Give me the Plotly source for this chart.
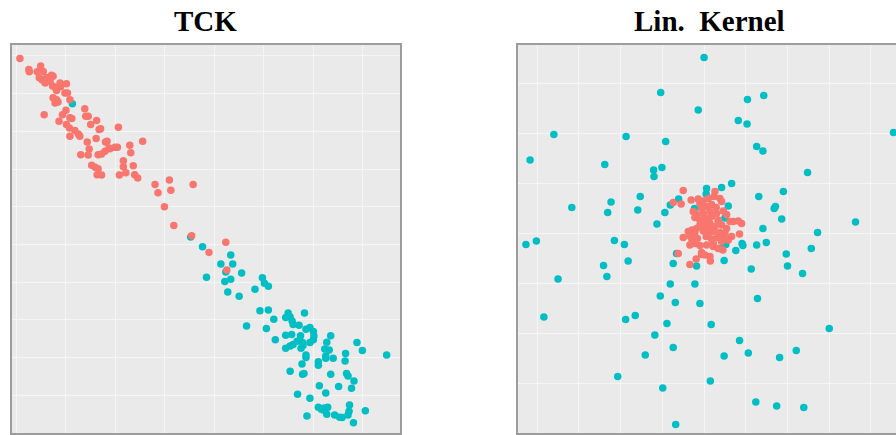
import plotly.graph_objects as go

# ---------------- data ----------------
# Left panel: TCK embedding
tck_red_x = [-9.3,-7.5,-7.4,-5.8,-5.1,-4.6,-5.4,-4.8,-4.2,-3.9,-4.4,-3.2,-2.9,-2.6,-2.7,-2.2,-1.9,-1.2,-1.1,0.1,
             -0.2,0.3,-2.6,-2.2,-1.6,-1.9,0.8,-4.4,-1.4,0.0,-0.7,0.8,1.2,3.8,4.0,4.5,6.2,5.0,0.1,0.7,
             1.8,2.5,2.8,0.8,6.7,7.0,10.6,6.1,4.3,8.0,8.3,4.7,3.0,4.5,6.5,7.2,7.9,8.9,9.9,10.4,
             8.7,12.9,15.5,13.1,11.6,11.6,13.6,12.1,13.9,14.5,5.2,5.9,6.5,6.3,7.2,10.8,18.0,20.9,25.7,18.6,
             21.2,19.9,21.8,25.4,32.3,28.9,32.5]
tck_red_y = [99.3,96.4,95.8,95.8,97.3,95.9,94.2,93.6,92.8,94.3,93.7,93.3,94.9,94.6,92.0,91.7,90.8,92.8,91.8,92.6,
             90.2,90.2,88.9,87.5,87.8,88.4,88.4,84.4,82.7,85.6,84.4,83.6,83.4,86.0,84.0,84.0,82.9,81.8,81.8,80.9,
             80.2,79.3,78.7,78.7,80.5,80.7,81.1,78.1,77.2,77.2,77.4,75.3,73.8,73.7,73.8,74.0,74.7,75.4,75.8,75.8,
             75.6,76.3,77.4,74.3,72.2,70.6,70.9,69.0,68.5,67.6,71.0,70.5,70.1,68.5,68.4,68.4,65.9,67.1,65.9,63.7,
             64.4,60.0,55.0,52.3,50.6,47.9,43.2]
tck_cyan_x = [1.3,25.2,27.6,33.3,31.3,33.7,32.3,35.5,28.4,32.1,33.3,32.7,35.0,39.7,40.1,40.9,38.2,39.2,40.9,42.0,
              36.5,40.5,42.3,44.9,44.4,45.3,45.7,45.9,48.2,47.1,48.5,49.3,50.0,50.1,50.0,49.3,44.4,45.6,47.4,46.7,
              47.8,47.9,47.5,44.4,45.3,45.9,48.5,48.5,53.5,52.7,52.3,53.2,52.5,52.5,54.0,56.5,56.4,51.0,51.0,47.7,
              45.3,48.1,47.8,53.5,56.7,57.0,58.2,58.8,59.9,64.8,51.2,55.1,57.7,46.8,52.5,49.3,57.3,57.2,57.0,51.0,
              51.6,52.2,52.9,52.0,52.7,54.3,55.3,55.8,48.7,60.5,58.1]
tck_cyan_y = [87.3,52.0,49.4,47.2,44.8,44.8,42.7,42.4,41.3,40.2,40.8,37.4,36.3,41.2,39.7,38.9,38.1,32.4,32.6,30.2,
              28.4,27.7,24.7,31.8,30.6,30.8,29.7,28.8,31.8,28.6,27.5,28.0,26.9,25.7,24.7,24.0,25.9,26.1,25.8,24.3,
              24.0,23.2,22.5,22.5,23.1,23.5,20.7,20.0,25.8,24.1,22.3,22.0,20.4,19.8,19.8,21.1,19.1,18.9,18.0,18.3,
              16.4,15.8,15.6,15.6,15.8,15.1,13.8,24.0,21.9,20.7,12.5,12.3,11.9,10.3,10.6,9.2,7.4,5.8,4.8,6.8,
              6.3,6.6,6.8,6.1,5.0,4.8,4.2,4.1,4.5,5.9,2.7]

# Right panel: linear kernel embedding
lin_red_x = [-5.0,-7.4,-5.5,-3.1,-1.0,2.6,2.4,3.8,4.2,-1.4,-0.2,1.0,1.8,-0.6,0.6,2.9,-2.6,-1.8,-0.2,1.4,
             3.0,4.6,-2.2,-1.0,0.6,1.8,3.4,5.4,6.2,7.0,8.2,9.0,-1.0,0.2,1.4,2.6,4.2,5.4,-1.8,-2.9,
             -3.8,-2.2,-0.2,1.0,2.2,3.8,5.0,-5.0,-3.4,-1.6,0.5,1.8,3.2,4.6,6.6,8.5,-3.4,-2.2,-1.0,0.6,
             2.2,4.2,5.8,-0.6,0.2,1.4,4.5,-1.9,-3.4,-6.2,2.2,3.4,-2.9,1.0,3.4,1.5,-0.6]
lin_red_y = [18.5,16.1,15.8,16.6,15.9,18.3,17.3,16.9,16.3,16.8,16.4,16.9,15.7,14.9,15.3,15.1,14.3,13.7,13.9,14.3,
             13.9,14.4,13.1,12.6,12.9,13.3,12.6,13.7,12.3,12.3,12.4,11.9,11.6,11.7,11.9,11.3,11.6,10.9,10.9,10.6,
             10.3,9.9,10.4,9.9,10.3,10.1,9.9,9.1,9.4,8.9,9.3,8.8,9.1,8.9,9.3,9.8,7.6,7.9,7.5,7.6,
             7.9,8.3,8.6,6.1,5.6,5.3,6.6,4.8,3.7,5.9,7.3,6.9,8.6,10.9,12.3,4.4,5.7]
lin_cyan_x = [0.0,-10.4,-1.4,10.4,14.3,8.2,10.3,-36.0,-18.7,-9.2,45.4,-41.7,-23.8,12.6,14.1,-12.1,-12.0,-10.1,24.8,6.6,
              0.6,0.5,4.2,-15.3,-22.3,13.1,19.0,-31.7,-23.1,-15.9,-9.4,-8.1,-6.1,16.8,17.1,5.8,-2.3,5.0,
              36.3,18.6,-11.3,14.1,27.2,-42.7,-40.2,-21.5,-19.1,-18.2,-24.1,-23.3,-35.0,-6.6,-7.4,-1.8,3.8,5.2,7.6,9.3,
              9.1,12.6,14.9,4.8,19.7,25.7,20.0,11.3,23.6,-8.1,-2.2,-10.5,-6.9,-1.0,12.8,-38.4,-18.8,-16.5,-8.9,1.7,
              30.0,-11.8,-7.4,8.5,-14.1,4.8,10.6,18.1,22.1,-20.7,1.5,-9.9,12.4,17.4,23.9,-6.8]
lin_cyan_y = [45.1,38.1,34.6,36.7,37.5,32.5,31.8,29.7,29.3,28.3,30.1,24.6,23.7,27.3,26.4,22.6,21.3,23.1,22.1,19.9,
              18.9,17.8,19.1,17.3,16.2,17.3,18.3,15.1,14.1,14.6,14.1,15.6,16.8,14.9,15.3,15.4,14.9,13.0,
              12.2,12.8,11.8,10.9,10.1,7.7,8.4,8.5,7.7,4.4,3.5,1.3,0.8,5.9,3.9,3.4,6.9,7.7,6.5,7.5,
              7.9,7.6,8.1,4.5,5.8,6.9,3.4,2.8,1.9,-0.2,-0.2,-2.6,-3.9,-4.1,-3.1,-6.8,-7.3,-6.5,-8.1,-8.3,
              -9.1,-10.4,-12.9,-11.5,-14.4,-14.6,-14.0,-14.9,-13.5,-18.7,-19.6,-21.0,-23.8,-24.6,-24.9,-28.3]

titles = ["TCK", "Lin.&nbsp; Kernel"]

RED = "#F8766D"
CYAN = "#00BFC4"
PANEL_BG = "#EAEAEA"
GRID = "#F5F5F5"
BORDER = "#9C9C9C"

fig = go.Figure()

def pts(x, y, color, xa, ya):
    return go.Scatter(x=x, y=y, mode="markers", xaxis=xa, yaxis=ya,
                      marker=dict(color=color, size=7.5, line=dict(width=0)),
                      showlegend=False, hoverinfo="skip")

fig.add_trace(pts(tck_cyan_x, tck_cyan_y, CYAN, "x", "y"))
fig.add_trace(pts(tck_red_x, tck_red_y, RED, "x", "y"))
fig.add_trace(pts(lin_cyan_x, lin_cyan_y, CYAN, "x2", "y2"))
fig.add_trace(pts(lin_red_x, lin_red_y, RED, "x2", "y2"))

W, H = 896, 435
ydom = [2 / H, 390 / H]

common = dict(showticklabels=False, ticks="", zeroline=False,
              gridcolor=GRID, gridwidth=1, showline=True,
              linecolor=BORDER, linewidth=2)

fig.update_layout(
    width=W, height=H,
    margin=dict(l=0, r=0, t=0, b=0),
    paper_bgcolor="white",
    plot_bgcolor=PANEL_BG,
    xaxis=dict(domain=[12 / W, 400 / W], range=[-10.9, 67.5], dtick=10, tick0=0,
               mirror=True, anchor="y", **common),
    yaxis=dict(domain=ydom, range=[0, 102.9], dtick=10, tick0=0,
               mirror=True, anchor="x", **common),
    xaxis2=dict(domain=[518 / W, 1.0], range=[-44.6, 46.0], dtick=10, tick0=0,
                mirror=True, anchor="y2", **common),
    yaxis2=dict(domain=ydom, range=[-30, 47.6], dtick=10, tick0=0,
                mirror=False, anchor="x2", **common),
)

title_font = dict(family="Liberation Serif", size=29, color="black", weight="bold")
fig.add_annotation(text=titles[0], x=205 / W, y=(H - 21) / H, xref="paper", yref="paper",
                   showarrow=False, xanchor="center", yanchor="middle", font=title_font)
fig.add_annotation(text=titles[1], x=709 / W, y=(H - 21) / H, xref="paper", yref="paper",
                   showarrow=False, xanchor="center", yanchor="middle", font=title_font)

fig.write_html("out.html")
